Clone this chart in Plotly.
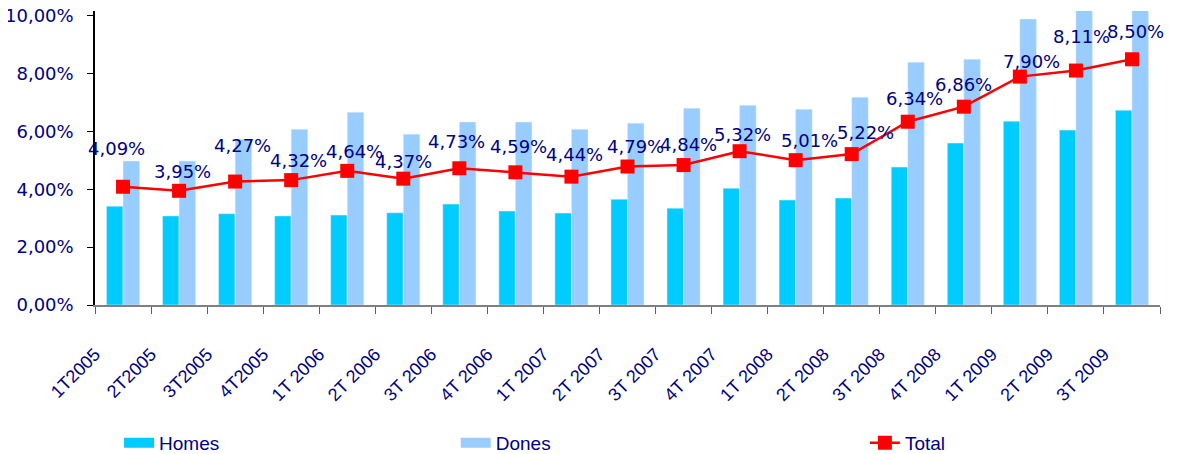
import plotly.graph_objects as go

NAVY = "#000080"
HOMES_COLOR = "#00CCFF"
DONES_COLOR = "#99CCFF"
RED = "#FF0000"

QUARTERS = [
    "1T2005", "2T2005", "3T2005", "4T2005",
    "1T 2006", "2T 2006", "3T 2006", "4T 2006",
    "1T 2007", "2T 2007", "3T 2007", "4T 2007",
    "1T 2008", "2T 2008", "3T 2008", "4T 2008",
    "1T 2009", "2T 2009", "3T 2009",
]
HOMES = [3.42, 3.08, 3.16, 3.08, 3.11, 3.19, 3.49, 3.25, 3.18, 3.66,
         3.35, 4.04, 3.63, 3.70, 4.77, 5.60, 6.36, 6.05, 6.74]
DONES = [4.98, 4.98, 5.73, 6.08, 6.67, 5.91, 6.33, 6.33, 6.08, 6.29,
         6.81, 6.91, 6.77, 7.19, 8.40, 8.50, 9.89, 10.40, 10.50]
TOTAL = [4.09, 3.95, 4.27, 4.32, 4.64, 4.37, 4.73, 4.59, 4.44, 4.79,
         4.84, 5.32, 5.01, 5.22, 6.34, 6.86, 7.90, 8.11, 8.50]
Y_TICKS = [0, 2, 4, 6, 8, 10]

# label nudges in pixels (dx, dy up) - the source chart has hand-placed labels
LABEL_SHIFTS = [(-7, 38), (3, 19), (7, 36), (7, 20), (7, 19), (0, 17), (-3, 27),
                (3, 26), (3, 22), (8, 20), (5, 21), (3, 17), (14, 20), (14, 22),
                (7, 23), (0, 22), (12, 15), (6, 34), (4, 28)]


def pct(v):
    return f"{v:.2f}%".replace(".", ",")


fig = go.Figure()

fig.add_trace(go.Bar(x=QUARTERS, y=HOMES, name="Homes", marker_color=HOMES_COLOR,
                     showlegend=False))
fig.add_trace(go.Bar(x=QUARTERS, y=DONES, name="Dones", marker_color=DONES_COLOR,
                     showlegend=False))
fig.add_trace(go.Scatter(
    x=QUARTERS, y=TOTAL, name="Total", mode="lines+markers",
    line=dict(color=RED, width=2.5),
    marker=dict(symbol="square", size=14, color=RED),
    legend="legend3",
))

# legend-only entries so the bar swatches look like wide blocks
fig.add_trace(go.Scatter(x=[None], y=[None], mode="lines", name="Homes",
                         line=dict(color=HOMES_COLOR, width=10), legend="legend"))
fig.add_trace(go.Scatter(x=[None], y=[None], mode="lines", name="Dones",
                         line=dict(color=DONES_COLOR, width=10), legend="legend2"))

for q, v, (dx, dy) in zip(QUARTERS, TOTAL, LABEL_SHIFTS):
    fig.add_annotation(
        x=q, y=v, text=pct(v), showarrow=False,
        xshift=dx, yshift=dy,
        font=dict(family="DejaVu Sans", size=18, color=NAVY),
    )

legend_common = dict(orientation="h", xref="container", yref="container",
                     yanchor="middle", y=0.025, xanchor="left",
                     font=dict(family="Liberation Sans", size=19, color=NAVY),
                     bgcolor="rgba(0,0,0,0)")

# page body has an 8px margin, so the figure is sized to fit the window
fig.update_layout(
    width=1169,
    height=446,
    margin=dict(l=87, r=17, t=3, b=149),
    plot_bgcolor="white",
    paper_bgcolor="white",
    barmode="group",
    bargap=0.41,
    bargroupgap=0,
    legend=dict(x=0.095, **legend_common),
    legend2=dict(x=0.383, **legend_common),
    legend3=dict(x=0.733, **legend_common),
    xaxis=dict(
        automargin=False,
        range=[-0.5, len(QUARTERS) - 0.5],
        showgrid=False, zeroline=False,
        showline=True, linecolor="#808080", linewidth=1.5,
        ticks="outside", tickson="boundaries", ticklen=7, tickcolor="#606060",
        tickangle=-45,
        ticklabelshift=-28,
        ticklabelstandoff=30,
        ticklabeloverflow="allow",
        tickfont=dict(family="Liberation Sans", size=18, color=NAVY),
    ),
    yaxis=dict(
        automargin=False,
        range=[0, 10.17], tickvals=Y_TICKS, ticktext=[pct(t) for t in Y_TICKS],
        showgrid=False, zeroline=False,
        showline=True, linecolor="black", linewidth=1.5,
        ticks="outside", ticklen=6, tickcolor="black",
        ticklabelstandoff=10,
        ticklabeloverflow="allow",
        tickfont=dict(family="DejaVu Sans", size=18, color=NAVY),
    ),
)

fig.write_html("out.html")
